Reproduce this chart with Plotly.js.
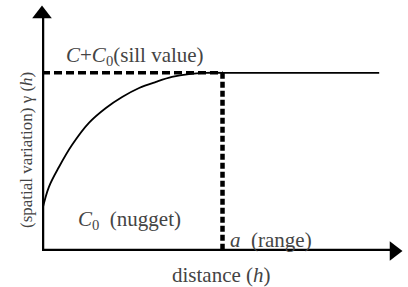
<!DOCTYPE html>
<html>
<head>
<meta charset="utf-8">
<script src="https://cdn.plot.ly/plotly-3.0.1.min.js"></script>
<style>html,body{margin:0;padding:0;background:#fff;}#chart{width:408px;height:287px;}</style>
</head>
<body>
<div id="chart"></div>
<script>
// Semivariogram schematic values (abstract units)
const distanceValues = [0, 0.19, 0.47, 0.83, 1.30, 1.77, 2.22, 2.69, 3.16, 3.60, 4.07, 4.54, 5.0, 9.34];
const gammaValues    = [1.64, 2.62, 3.44, 4.34, 5.25, 5.86, 6.31, 6.68, 6.93, 7.13, 7.25, 7.30, 7.30, 7.30];
const sillValue = 7.30;
const nuggetValue = 1.64;
const rangeValue = 5.0;
const axisMax = [9.75, 9.71];

function f(size) { return {family: 'Liberation Serif', size: size}; }

const traces = [
  {x: distanceValues, y: gammaValues, mode: 'lines', line: {color: '#000', width: 1.8, shape: 'spline'}, cliponaxis: false, hoverinfo: 'skip'},
  {x: [0, rangeValue], y: [sillValue, sillValue], mode: 'lines', line: {color: '#000', width: 3.5, dash: '8px,4px'}, cliponaxis: false, hoverinfo: 'skip'},
  {x: [rangeValue, rangeValue], y: [sillValue, 0], mode: 'lines', line: {color: '#000', width: 4.5, dash: '6px,3px'}, cliponaxis: false, hoverinfo: 'skip'},
  // axes
  {x: [0, axisMax[0]], y: [0, 0], mode: 'lines', line: {color: '#000', width: 4.5}, cliponaxis: false, hoverinfo: 'skip'},
  {x: [0, 0], y: [0, axisMax[1]], mode: 'lines', line: {color: '#000', width: 4.5}, cliponaxis: false, hoverinfo: 'skip'},
  // arrowheads at axis ends
  {x: [axisMax[0]], y: [0], mode: 'markers', marker: {symbol: 'triangle-right', size: 17, color: '#000', line: {width: 0}}, cliponaxis: false, hoverinfo: 'skip'},
  {x: [0], y: [axisMax[1]], mode: 'markers', marker: {symbol: 'triangle-up', size: 17, color: '#000', line: {width: 0}}, cliponaxis: false, hoverinfo: 'skip'}
];

const layout = {
  width: 408, height: 287,
  margin: {l: 42, r: 14, t: 14, b: 36},
  paper_bgcolor: '#fff', plot_bgcolor: '#fff',
  showlegend: false,
  xaxis: {range: [0, axisMax[0]], visible: false},
  yaxis: {range: [0, axisMax[1]], visible: false},
  annotations: [
    {x: 2.58, y: sillValue, xref: 'x', yref: 'y', yshift: 17, text: '<i>C</i>+<i>C</i><sub>0</sub>(sill value)', showarrow: false, font: f(21)},
    {x: 2.42, y: 0, xref: 'x', yref: 'y', yshift: 31, text: '<i>C</i><sub>0</sub>  (nugget)', showarrow: false, font: f(21)},
    {x: rangeValue, y: 0, xref: 'x', yref: 'y', xanchor: 'left', xshift: 5, yshift: 11, text: '<i>a</i>  (range)', showarrow: false, font: f(21)},
    {x: 4.96, y: 0, xref: 'x', yref: 'y', yshift: -24, text: 'distance (<i>h</i>)', showarrow: false, font: f(21)},
    {x: 0, y: 4.14, xref: 'x', yref: 'y', xshift: -15, textangle: -90, text: '(spatial variation) γ (<i>h</i>)', showarrow: false, font: f(17)}
  ]
};

Plotly.newPlot('chart', traces, layout, {staticPlot: true});
</script>
</body>
</html>
